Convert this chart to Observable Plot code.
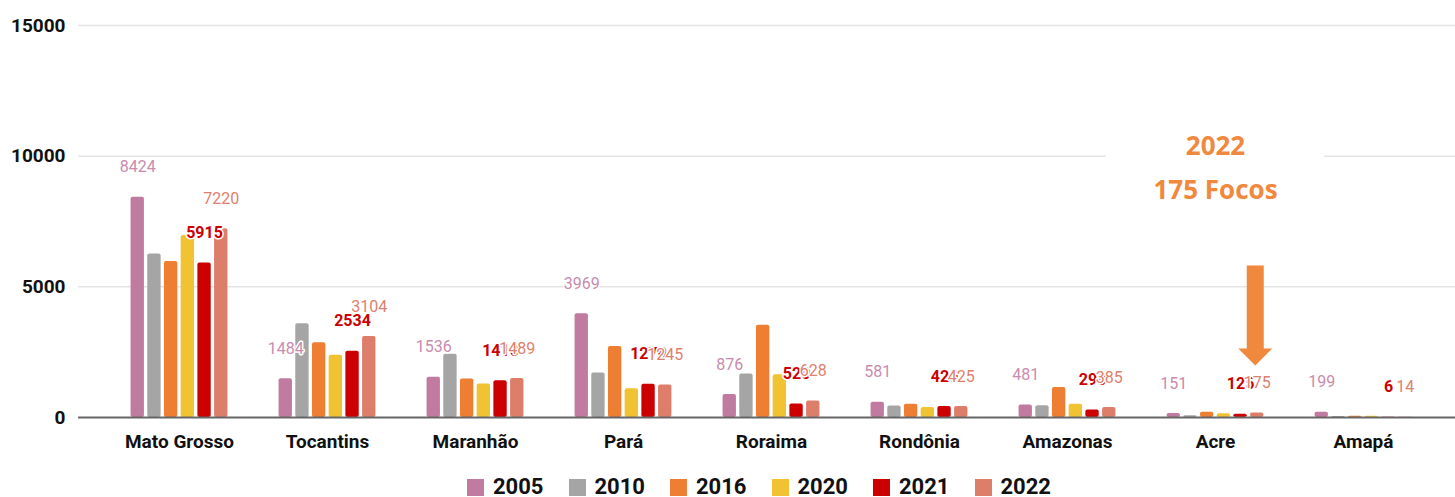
<!DOCTYPE html>
<html>
<head>
<meta charset="utf-8">
<script src="https://cdn.jsdelivr.net/npm/d3@7"></script>
<script src="https://cdn.jsdelivr.net/npm/@observablehq/plot@0.6"></script>
<style>
  html, body { margin: 0; padding: 0; background: #fff; }
  body { font-family: Roboto, "Noto Sans", sans-serif; width: 1455px; height: 497px; overflow: hidden; }
  #chart svg { display: block; }
  #legend { position: relative; height: 37px; }
  .item { position: absolute; top: 17px; display: flex; align-items: center; }
  .sw { width: 17px; height: 17px; margin-right: 9px; }
  .lab { font: bold 22px Roboto, sans-serif; color: #111; line-height: 20px; }
</style>
</head>
<body>
<div id="chart"></div>
<div id="legend"></div>
<script>
// ---- data ----
const states = ["Mato Grosso", "Tocantins", "Maranhão", "Pará", "Roraima", "Rondônia", "Amazonas", "Acre", "Amapá"];
const years = ["2005", "2010", "2016", "2020", "2021", "2022"];
const v2005 = [8424, 1484, 1536, 3969, 876, 581, 481, 151, 199];
const v2010 = [6260, 3585, 2425, 1700, 1660, 440, 450, 70, 40];
const v2016 = [5970, 2860, 1470, 2720, 3530, 510, 1150, 200, 45];
const v2020 = [6960, 2385, 1280, 1100, 1640, 380, 510, 140, 50];
const v2021 = [5915, 2534, 1410, 1270, 520, 420, 290, 125, 6];
const v2022 = [7220, 3104, 1489, 1245, 628, 425, 385, 175, 14];
const yTicks = [0, 5000, 10000, 15000];
const gridTicks = [5000, 10000, 15000];
const colors = ["#C27BA0", "#A5A5A5", "#EE7F32", "#F1C232", "#CC0000", "#DD7E6B"];
const labelColors = {"2005": "#C98BAE", "2021": "#CC0000", "2022": "#E0806C"};
const labelWeights = {"2005": "normal", "2021": "bold", "2022": "normal"};
const labeledYears = ["2005", "2021", "2022"];
const annotationState = "Acre";
const annotationYear = "2022";
const annotationLines = ["2022", "175 Focos"];
const annotationY = [10370, 8680];
const annotationBox = [7600, 11400];
const arrowTip = 1990;

// ---- table ----
const series = [v2005, v2010, v2016, v2020, v2021, v2022];
const rows = [];
states.forEach((s, i) => years.forEach((y, j) => rows.push({state: s, year: y, value: series[j][i]})));

// ---- layout ----
const W = 1455, H = 460;
const xRange = [103, 1438];
const band = (xRange[1] - xRange[0]) / states.length;
const slot = 16.7, barW = 13.7;
const side = (band - barW) / 2;
const offset = y => (years.indexOf(y) - (years.length - 1) / 2) * slot;
const orange = "#F0883E";

const arrowShape = {
  draw(ctx, l) {
    const hw = 8.5, hh = 17, head = 17;
    ctx.moveTo(-hw, 0);
    ctx.lineTo(hw, 0);
    ctx.lineTo(hw, -(l - hh));
    ctx.lineTo(head, -(l - hh));
    ctx.lineTo(0, -l);
    ctx.lineTo(-head, -(l - hh));
    ctx.lineTo(-hw, -(l - hh));
    ctx.closePath();
  }
};

const barMarks = years.map((yr, j) =>
  Plot.barY(rows.filter(d => d.year === yr), {
    x: "state", y: "value", fill: colors[j], dx: offset(yr),
    insetLeft: side, insetRight: side, rx: 2
  })
);

const labelMarks = labeledYears.map(yr =>
  Plot.text(rows.filter(d => d.year === yr), {
    x: "state", y: "value", text: d => String(d.value),
    dx: offset(yr), dy: -30, fill: labelColors[yr], fontWeight: labelWeights[yr],
    fontSize: 16, fontFamily: "Roboto, sans-serif",
    stroke: "white", strokeWidth: 3, paintOrder: "stroke"
  })
);

const annData = [{state: annotationState, year: annotationYear, tip: arrowTip}];

const chart = Plot.plot({
  width: W,
  height: H,
  marginTop: 25,
  marginBottom: 43,
  marginLeft: 78,
  marginRight: 0,
  style: {fontFamily: "Roboto, sans-serif", background: "white"},
  x: {domain: states, range: xRange, padding: 0, label: null},
  y: {domain: [0, 15000], label: null},
  marks: [
    Plot.ruleY(gridTicks, {stroke: "#e4e4e4", strokeWidth: 1.5}),
    Plot.rect(annData, {x: "state", y1: annotationBox[0], y2: annotationBox[1], fill: "white", insetLeft: -35, insetRight: -35}),
    ...barMarks,
    Plot.ruleY([0], {stroke: "#666", strokeWidth: 2}),
    Plot.axisY({ticks: yTicks, tickFormat: d => String(d), tickSize: 0, tickPadding: 13, label: null,
      fontSize: 19, fontWeight: "bold", fill: "#111"}),
    Plot.axisX({tickSize: 0, tickPadding: 17, label: null, fontSize: 19, fontWeight: "bold", fill: "#111"}),
    ...labelMarks,
    ...annotationLines.map((t, i) => Plot.text(annData, {
      x: "state", y: () => annotationY[i], text: () => t,
      fontSize: 26, fontWeight: "bold", fontFamily: "'Open Sans', sans-serif", fill: orange
    })),
    Plot.vector(annData, {
      x: "state", y: "tip", dx: offset(annotationYear) - 2, length: 100, rotate: 180, anchor: "end",
      shape: arrowShape, fill: orange, stroke: "none"
    })
  ]
});
document.getElementById("chart").appendChild(chart);

// ---- legend ----
const legend = document.getElementById("legend");
years.forEach((y, i) => {
  const it = document.createElement("div");
  it.className = "item";
  it.style.left = (467 + i * 101.5) + "px";
  const sw = document.createElement("div");
  sw.className = "sw";
  sw.style.background = colors[i];
  const lab = document.createElement("span");
  lab.className = "lab";
  lab.textContent = y;
  it.appendChild(sw);
  it.appendChild(lab);
  legend.appendChild(it);
});
</script>
</body>
</html>
